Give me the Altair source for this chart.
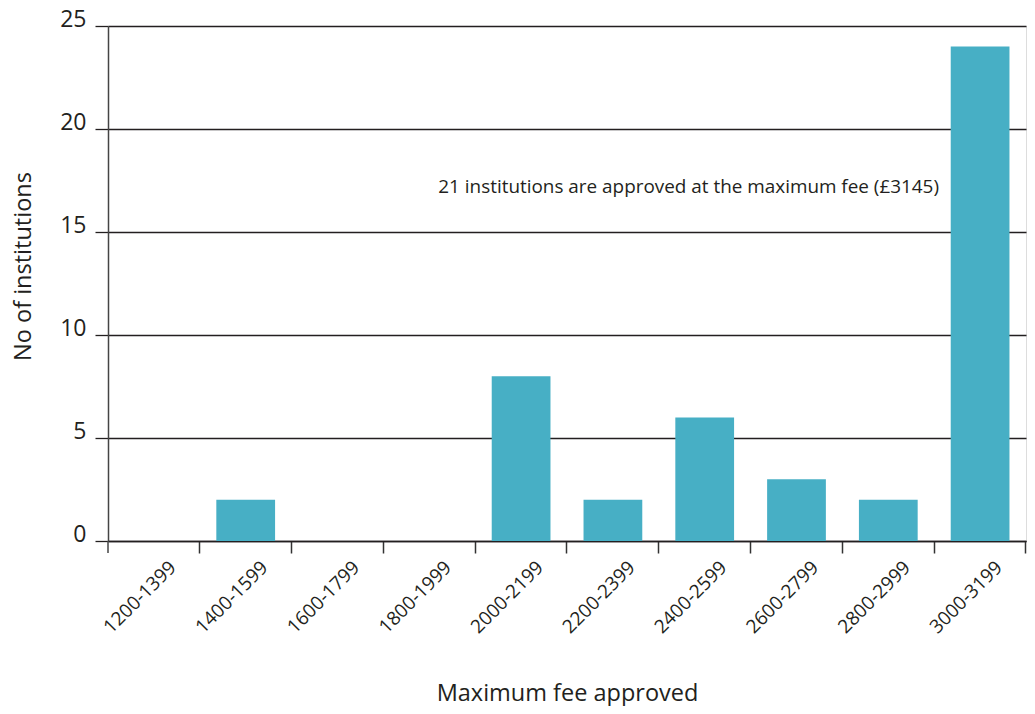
import altair as alt
import pandas as pd

categories = ["1200-1399", "1400-1599", "1600-1799", "1800-1999", "2000-2199",
              "2200-2399", "2400-2599", "2600-2799", "2800-2999", "3000-3199"]
counts = [0, 2, 0, 0, 8, 2, 6, 3, 2, 24]
y_ticks = [0, 5, 10, 15, 20, 25]
note_text = "21 institutions are approved at the maximum fee (£3145)"

df = pd.DataFrame({"band": categories, "n": counts})
FONT = "Open Sans"
INK = "#231f20"

x_enc = alt.X(
    "band:N", sort=categories,
    scale=alt.Scale(paddingInner=0.36, paddingOuter=0.18),
    axis=alt.Axis(
        title="Maximum fee approved", titleFont=FONT, titleFontSize=23.5,
        titleFontWeight="normal", titleColor=INK,
        titleX=459, titleY=152, titleAlign="center", titleBaseline="middle",
        labelAngle=315, labelAlign="right", labelBaseline="middle",
        labelFont=FONT, labelFontSize=19, labelColor=INK, labelPadding=11,
        labelOffset=19,
        bandPosition=1.281, tickSize=12, tickColor="#333333", tickWidth=1.5,
        domainColor=INK, domainWidth=1.5, grid=False,
    ),
)
y_enc = alt.Y(
    "n:Q",
    scale=alt.Scale(domain=[0, 25], nice=False),
    axis=alt.Axis(
        values=y_ticks, title="No of institutions", titleFont=FONT, titleFontSize=23.5,
        titleFontWeight="normal", titleColor=INK, titleAngle=270,
        titleX=-85, titleY=240, titleAlign="center", titleBaseline="middle",
        labelFont=FONT, labelFontSize=23, labelColor=INK, labelPadding=9,
        labelBaseline="alphabetic", labelAlign="right",
        tickSize=13, tickColor=INK, tickWidth=1.3,
        grid=True, gridColor=INK, gridWidth=1.3,
        domainColor="#444444", domainWidth=1.5,
    ),
)

bars = alt.Chart(df).mark_bar(color="#47afc5").encode(x=x_enc, y=y_enc)

note = alt.Chart(pd.DataFrame({"t": [note_text]})).mark_text(
    align="left", baseline="middle", font=FONT, fontSize=18.9, color=INK, dx=9
).encode(x=alt.datum("1800-1999"), y=alt.datum(17.2), text="t:N")

# downward extension of the y axis line below the x axis (first boundary tick)
left_tick = alt.Chart(pd.DataFrame({"k": [0]})).mark_rule(
    color="#444444", strokeWidth=1.5
).encode(x=alt.value(0), y=alt.value(515), y2=alt.value(527))

chart = alt.layer(bars, note, left_tick).properties(
    width=918, height=515,
    autosize=alt.AutoSizeParams(type="none"),
    padding={"left": 100, "top": 18, "right": 1, "bottom": 165},
).configure_view(stroke=INK, strokeWidth=1.5).configure(background="white")

chart.save("out.html", embed_options={"renderer": "svg", "actions": False})
